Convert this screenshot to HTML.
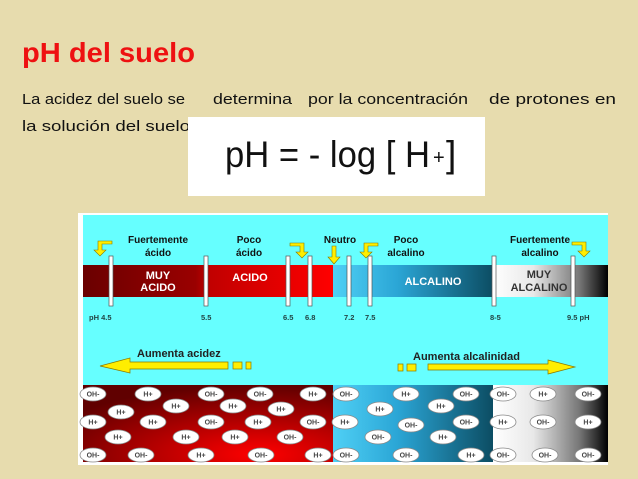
<!DOCTYPE html>
<html><head><meta charset="utf-8"><style>
html,body{margin:0;padding:0;background:#e7dcae;}
svg{display:block}
text{font-family:"Liberation Sans",sans-serif}
</style></head><body>
<svg width="638" height="479" viewBox="0 0 638 479" xmlns="http://www.w3.org/2000/svg">
<defs>
<linearGradient id="r1" x1="0" x2="1"><stop offset="0" stop-color="#6a0000"/><stop offset="0.45" stop-color="#9a0000"/><stop offset="0.5" stop-color="#c00000"/><stop offset="1" stop-color="#ff0000"/></linearGradient>
<linearGradient id="b1" x1="0" x2="1"><stop offset="0" stop-color="#4fd0f5"/><stop offset="0.4" stop-color="#2ba6d6"/><stop offset="1" stop-color="#0c4d63"/></linearGradient>
<linearGradient id="g1" x1="0" x2="1"><stop offset="0" stop-color="#fff"/><stop offset="0.35" stop-color="#e8e8e8"/><stop offset="0.75" stop-color="#777"/><stop offset="1" stop-color="#000"/></linearGradient>
<radialGradient id="r2" cx="0.7" cy="0.9" r="0.9"><stop offset="0" stop-color="#ff0000"/><stop offset="1" stop-color="#600000"/></radialGradient>
<g id="oh"><ellipse rx="13" ry="7" fill="#fff" stroke="#888" stroke-width="0.8"/></g>
</defs>
<rect width="638" height="479" fill="#e7dcae"/>
<text x="22" y="62" font-size="28" font-weight="bold" fill="#ee1111" textLength="173" lengthAdjust="spacingAndGlyphs">pH del suelo</text>
<text x="22" y="104" font-size="15" fill="#111" textLength="163" lengthAdjust="spacingAndGlyphs">La acidez del suelo se</text>
<text x="213" y="104" font-size="15" fill="#111" textLength="79" lengthAdjust="spacingAndGlyphs">determina</text>
<text x="308" y="104" font-size="15" fill="#111" textLength="160" lengthAdjust="spacingAndGlyphs">por la concentración</text>
<text x="489" y="104" font-size="15" fill="#111" textLength="127" lengthAdjust="spacingAndGlyphs">de protones  en</text>
<text x="22" y="131" font-size="15" fill="#111" textLength="168" lengthAdjust="spacingAndGlyphs">la solución  del suelo</text>
<rect x="188" y="117" width="297" height="79" fill="#fff"/>
<text x="225" y="167" font-size="37" fill="#111" textLength="205" lengthAdjust="spacingAndGlyphs">pH = - log [ H</text>
<text x="433" y="164" font-size="20" fill="#111">+</text>
<text x="446" y="167" font-size="37" fill="#111">]</text>

<rect x="78" y="213" width="530" height="252" fill="#fff"/>
<rect x="83" y="215" width="525" height="170" fill="#66ffff"/>
<rect x="83" y="265" width="250" height="32" fill="url(#r1)"/>
<rect x="333" y="265" width="160" height="32" fill="url(#b1)"/>
<rect x="493" y="265" width="115" height="32" fill="url(#g1)"/>
<g fill="#fff" stroke="#555" stroke-width="0.7">
<rect x="109" y="256" width="4" height="50"/><rect x="204" y="256" width="4" height="50"/>
<rect x="286" y="256" width="4" height="50"/><rect x="308" y="256" width="4" height="50"/>
<rect x="347" y="256" width="4" height="50"/><rect x="368" y="256" width="4" height="50"/>
<rect x="492" y="256" width="4" height="50"/><rect x="571" y="256" width="4" height="50"/>
</g>
<g font-size="10" font-weight="bold" fill="#111" text-anchor="middle">
<text x="158" y="243">Fuertemente</text><text x="158" y="256">ácido</text>
<text x="249" y="243">Poco</text><text x="249" y="256">ácido</text>
<text x="340" y="243">Neutro</text>
<text x="406" y="243">Poco</text><text x="406" y="256">alcalino</text>
<text x="540" y="243">Fuertemente</text><text x="540" y="256">alcalino</text>
</g>
<g fill="#ffee00" stroke="#887700" stroke-width="0.6">
<path d="M112 246 H102 V252 H106 L100 258 L94 252 H98 V243 H112 Z" transform="translate(0,-2)"/>
<path d="M288 244 H298 V250 H294 L300 256 L306 250 H302 V241 H288 Z" transform="translate(2,2)"/>
<path d="M331 246 H335 V257 H339 L333 264 L327 257 H331 Z" transform="translate(1,0)"/>
<path d="M376 244 H366 V250 H370 L364 256 L358 250 H362 V241 H376 Z" transform="translate(2,2)"/>
<path d="M572 244 H582 V250 H578 L584 256 L590 250 H586 V241 H572 Z" transform="translate(0,1)"/>
</g>
<g font-family="Liberation Serif" font-weight="bold" font-size="11" text-anchor="middle">
<text x="158" y="279" fill="#fff">MUY</text><text x="158" y="291" fill="#fff">ACIDO</text>
<text x="250" y="281" fill="#fff">ACIDO</text>
<text x="433" y="285" fill="#fff">ALCALINO</text>
<text x="539" y="278" fill="#333">MUY</text><text x="539" y="291" fill="#333">ALCALINO</text>
</g>
<g font-size="7.5" font-weight="bold" fill="#224444">
<text x="89" y="320">pH  4.5</text><text x="201" y="320">5.5</text>
<text x="283" y="320">6.5</text><text x="305" y="320">6.8</text>
<text x="344" y="320">7.2</text><text x="365" y="320">7.5</text>
<text x="490" y="320">8-5</text><text x="567" y="320">9.5  pH</text>
</g>
<g fill="#ffee00" stroke="#887700" stroke-width="0.7">
<path d="M100 366 L130 358 V362 H228 V369 H130 V373 Z"/>
<rect x="233" y="362" width="9" height="7"/><rect x="246" y="362" width="5" height="7"/>
<rect x="398" y="364" width="5" height="7"/><rect x="407" y="364" width="9" height="7"/>
<path d="M428 364 H548 V360 L575 367 L548 374 V370 H428 Z"/>
</g>
<text x="137" y="357" font-size="11" font-weight="bold" fill="#222">Aumenta acidez</text>
<text x="413" y="360" font-size="11" font-weight="bold" fill="#222">Aumenta alcalinidad</text>

<rect x="83" y="385" width="250" height="77" fill="url(#r2)"/>
<rect x="333" y="385" width="160" height="77" fill="url(#b1)"/>
<rect x="493" y="385" width="115" height="77" fill="url(#g1)"/>
<g font-size="7" font-weight="bold" fill="#444" text-anchor="middle">
<use href="#oh" x="93" y="394"/><text x="93" y="396.5">OH-</text>
<use href="#oh" x="148" y="394"/><text x="148" y="396.5">H+</text>
<use href="#oh" x="211" y="394"/><text x="211" y="396.5">OH-</text>
<use href="#oh" x="260" y="394"/><text x="260" y="396.5">OH-</text>
<use href="#oh" x="313" y="394"/><text x="313" y="396.5">H+</text>
<use href="#oh" x="346" y="394"/><text x="346" y="396.5">OH-</text>
<use href="#oh" x="406" y="394"/><text x="406" y="396.5">H+</text>
<use href="#oh" x="466" y="394"/><text x="466" y="396.5">OH-</text>
<use href="#oh" x="503" y="394"/><text x="503" y="396.5">OH-</text>
<use href="#oh" x="543" y="394"/><text x="543" y="396.5">H+</text>
<use href="#oh" x="588" y="394"/><text x="588" y="396.5">OH-</text>

<use href="#oh" x="121" y="412"/><text x="121" y="414.5">H+</text>
<use href="#oh" x="176" y="406"/><text x="176" y="408.5">H+</text>
<use href="#oh" x="233" y="406"/><text x="233" y="408.5">H+</text>
<use href="#oh" x="281" y="409"/><text x="281" y="411.5">H+</text>
<use href="#oh" x="380" y="409"/><text x="380" y="411.5">H+</text>
<use href="#oh" x="441" y="406"/><text x="441" y="408.5">H+</text>

<use href="#oh" x="93" y="422"/><text x="93" y="424.5">H+</text>
<use href="#oh" x="153" y="422"/><text x="153" y="424.5">H+</text>
<use href="#oh" x="211" y="422"/><text x="211" y="424.5">OH-</text>
<use href="#oh" x="258" y="422"/><text x="258" y="424.5">H+</text>
<use href="#oh" x="313" y="422"/><text x="313" y="424.5">OH-</text>
<use href="#oh" x="345" y="422"/><text x="345" y="424.5">H+</text>
<use href="#oh" x="411" y="425"/><text x="411" y="427.5">OH-</text>
<use href="#oh" x="466" y="422"/><text x="466" y="424.5">OH-</text>
<use href="#oh" x="503" y="422"/><text x="503" y="424.5">H+</text>
<use href="#oh" x="543" y="422"/><text x="543" y="424.5">OH-</text>
<use href="#oh" x="588" y="422"/><text x="588" y="424.5">H+</text>

<use href="#oh" x="118" y="437"/><text x="118" y="439.5">H+</text>
<use href="#oh" x="186" y="437"/><text x="186" y="439.5">H+</text>
<use href="#oh" x="235" y="437"/><text x="235" y="439.5">H+</text>
<use href="#oh" x="290" y="437"/><text x="290" y="439.5">OH-</text>
<use href="#oh" x="378" y="437"/><text x="378" y="439.5">OH-</text>
<use href="#oh" x="443" y="437"/><text x="443" y="439.5">H+</text>

<use href="#oh" x="93" y="455"/><text x="93" y="457.5">OH-</text>
<use href="#oh" x="141" y="455"/><text x="141" y="457.5">OH-</text>
<use href="#oh" x="201" y="455"/><text x="201" y="457.5">H+</text>
<use href="#oh" x="261" y="455"/><text x="261" y="457.5">OH-</text>
<use href="#oh" x="318" y="455"/><text x="318" y="457.5">H+</text>
<use href="#oh" x="346" y="455"/><text x="346" y="457.5">OH-</text>
<use href="#oh" x="406" y="455"/><text x="406" y="457.5">OH-</text>
<use href="#oh" x="471" y="455"/><text x="471" y="457.5">H+</text>
<use href="#oh" x="503" y="455"/><text x="503" y="457.5">OH-</text>
<use href="#oh" x="545" y="455"/><text x="545" y="457.5">OH-</text>
<use href="#oh" x="588" y="455"/><text x="588" y="457.5">OH-</text>
</g>
</svg>
</body></html>
